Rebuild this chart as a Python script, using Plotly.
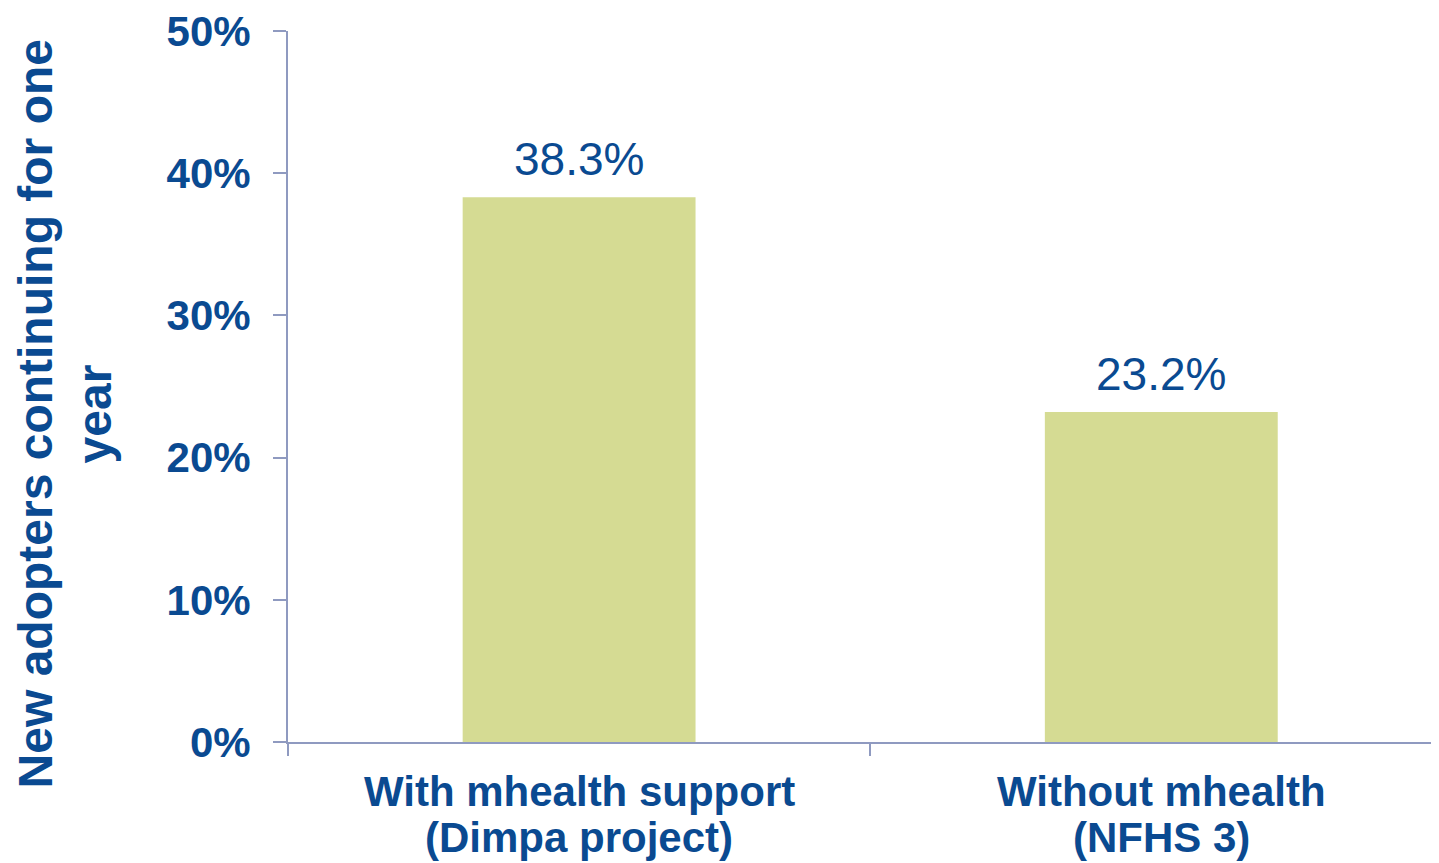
import plotly.graph_objects as go

categories = ["With mhealth support", "Without mhealth"]
label_line1 = ["With mhealth support", "Without mhealth"]
label_line2 = ["(Dimpa project)", "(NFHS 3)"]
values = [38.3, 23.2]
value_labels = ["38.3%", "23.2%"]
y_ticks = [0, 10, 20, 30, 40, 50]
y_tick_labels = ["0%", "10%", "20%", "30%", "40%", "50%"]

BLUE = "#0A4A91"
BAR = "#D5DB93"
AXIS = "#8F9AC0"
FONT = "Liberation Sans, Arial, sans-serif"

# page offset of 8px (body margin) is compensated in the margins
L, T, W, H = 280, 20, 1431, 855
PW = W - L
PH = 714

fig = go.Figure()
fig.add_trace(go.Bar(x=categories, y=values, marker=dict(color=BAR, line=dict(width=0)),
                     width=0.4, hoverinfo="skip"))

annotations = []
for c, v, t in zip(categories, values, value_labels):
    annotations.append(dict(x=c, y=v, xref="x", yref="y", text=t, showarrow=False,
                            yanchor="middle", yshift=38,
                            font=dict(family=FONT, size=46, color=BLUE)))
for c, l1, l2 in zip(categories, label_line1, label_line2):
    annotations.append(dict(x=c, y=0, xref="x", yref="paper", text=l1, showarrow=False,
                            yanchor="middle", yshift=-49,
                            font=dict(family=FONT, size=42, color=BLUE, weight="bold")))
    annotations.append(dict(x=c, y=0, xref="x", yref="paper", text=l2, showarrow=False,
                            yanchor="middle", yshift=-95,
                            font=dict(family=FONT, size=42, color=BLUE, weight="bold")))
# y-axis title (two lines)
annotations.append(dict(x=(35 - 288) / PW, y=(742 - 413) / PH, xref="paper", yref="paper",
                        text="New adopters continuing for one", textangle=-90, showarrow=False,
                        xanchor="center", yanchor="middle",
                        font=dict(family=FONT, size=48, color=BLUE, weight="bold")))
annotations.append(dict(x=(94 - 288) / PW, y=(742 - 413) / PH, xref="paper", yref="paper",
                        text="year", textangle=-90, showarrow=False,
                        xanchor="center", yanchor="middle",
                        font=dict(family=FONT, size=48, color=BLUE, weight="bold")))

fig.update_layout(
    width=W, height=H,
    margin=dict(l=L, r=0, t=T, b=H - T - PH),
    paper_bgcolor="white", plot_bgcolor="white",
    showlegend=False,
    annotations=annotations,
    xaxis=dict(type="category", range=[-0.5, 1.477], showticklabels=False,
               showline=True, linecolor=AXIS, linewidth=2,
               ticks="outside", tickson="boundaries", ticklen=12, tickcolor=AXIS, tickwidth=2,
               showgrid=False, zeroline=False, fixedrange=True),
    yaxis=dict(range=[0, 50], tickmode="array", tickvals=y_ticks, ticktext=y_tick_labels,
               showline=True, linecolor=AXIS, linewidth=2,
               ticks="outside", ticklen=13, tickcolor=AXIS, tickwidth=2,
               ticklabelstandoff=14, ticklabeloverflow="allow",
               tickfont=dict(family=FONT, size=42, color=BLUE, weight="bold"),
               showgrid=False, zeroline=False, fixedrange=True),
)

fig.write_html("out.html", config={"displayModeBar": False})
